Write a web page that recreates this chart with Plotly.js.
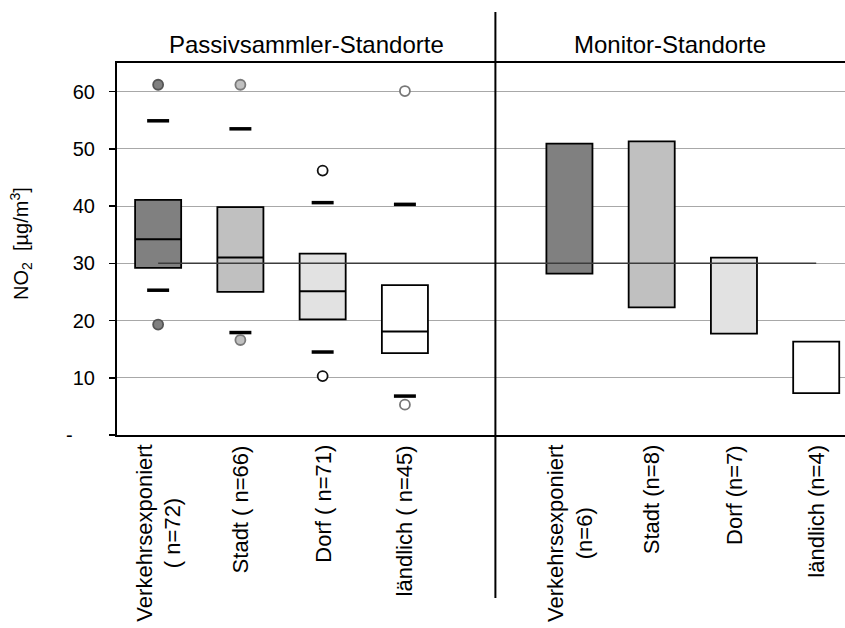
<!DOCTYPE html>
<html>
<head>
<meta charset="utf-8">
<script src="https://cdn.plot.ly/plotly-3.0.1.min.js"></script>
<style>html,body{margin:0;padding:0;background:#fff;}#chart{width:845px;height:628px;}</style>
</head>
<body>
<div id="chart"></div>
<script>
// ---- data ----
var groupTitles = ["Passivsammler-Standorte", "Monitor-Standorte"];
var passivLabels = ["Verkehrsexponiert<br>( n=72)", "Stadt ( n=66)", "Dorf ( n=71)", "ländlich ( n=45)"];
var monitorLabels = ["Verkehrsexponiert<br>(n=6)", "Stadt (n=8)", "Dorf (n=7)", "ländlich (n=4)"];

var passivMin    = [19.3, 16.6, 10.3, 5.3];
var passivP10    = [25.3, 17.9, 14.5, 6.8];
var passivQ1     = [29.2, 25.0, 20.2, 14.3];
var passivMedian = [34.2, 31.0, 25.1, 18.1];
var passivQ3     = [41.1, 39.8, 31.7, 26.2];
var passivP90    = [54.9, 53.5, 40.6, 40.3];
var passivMax    = [61.2, 61.2, 46.2, 60.1];

var monitorMin = [28.2, 22.3, 17.7, 7.3];
var monitorMax = [50.9, 51.3, 31.0, 16.3];

var grenzwert = 30;

var yTickVals = [0, 10, 20, 30, 40, 50, 60];
var yTickText = ["-\u00a0\u00a0\u00a0\u00a0", "10", "20", "30", "40", "50", "60"];

// ---- styles ----
var boxColors = ["#808080", "#c0c0c0", "#e2e2e2", "#ffffff"];
var dotFill = ["#808080", "#c0c0c0", "#ffffff", "#ffffff"];
var dotLine = ["#555555", "#7a7a7a", "#111111", "#777777"];
var font = "Liberation Sans, Arial, sans-serif";
var boxW = 0.56;

// ---- positions (category slots) ----
var px = passivLabels.map(function (_, i) { return i; });
var mx = monitorLabels.map(function (_, i) { return i + passivLabels.length + 1; });
var divider = passivLabels.length + 0.1;
var xMin = -0.5, xMax = 8.35;

var traces = [];
// boxes
traces.push({
  type: "bar",
  x: px.concat(mx),
  base: passivQ1.concat(monitorMin),
  y: passivQ3.map(function (v, i) { return v - passivQ1[i]; })
      .concat(monitorMax.map(function (v, i) { return v - monitorMin[i]; })),
  width: boxW,
  marker: { color: boxColors.concat(boxColors), line: { color: "#000", width: 1.8 } },
  hoverinfo: "none", showlegend: false
});
// threshold line
traces.push({
  type: "scatter", mode: "lines",
  x: [px[0], mx[mx.length - 1]], y: [grenzwert, grenzwert],
  line: { color: "#3c3c3c", width: 1.6 },
  hoverinfo: "none", showlegend: false
});
// medians
var medX = [], medY = [];
px.forEach(function (x, i) {
  medX.push(x - boxW / 2, x + boxW / 2, null);
  medY.push(passivMedian[i], passivMedian[i], null);
});
traces.push({
  type: "scatter", mode: "lines", x: medX, y: medY,
  line: { color: "#000", width: 2 }, hoverinfo: "none", showlegend: false
});
// percentile dashes
traces.push({
  type: "scatter", mode: "markers",
  x: px.concat(px), y: passivP10.concat(passivP90),
  marker: { symbol: "line-ew", size: 15.7, line: { color: "#000", width: 3.5 } },
  hoverinfo: "none", showlegend: false
});
// min/max dots
traces.push({
  type: "scatter", mode: "markers",
  x: px.concat(px), y: passivMin.concat(passivMax),
  marker: { symbol: "circle", size: 10, color: dotFill.concat(dotFill),
            line: { color: dotLine.concat(dotLine), width: 1.8 } },
  hoverinfo: "none", showlegend: false
});

var annotations = [];
passivLabels.concat(monitorLabels).forEach(function (t, i) {
  annotations.push({
    x: px.concat(mx)[i], xref: "x", y: 0, yref: "paper",
    xanchor: "center", yanchor: "top", yshift: -8,
    text: t, textangle: -90, align: "center", showarrow: false,
    font: { family: font, size: 22, color: "#000" }
  });
});
annotations.push({
  x: (xMin + divider) / 2, xref: "x", y: 1, yref: "paper", yanchor: "bottom", yshift: 3,
  text: groupTitles[0], showarrow: false, font: { family: font, size: 24, color: "#000" }
});
annotations.push({
  x: (divider + xMax) / 2, xref: "x", y: 1, yref: "paper", yanchor: "bottom", yshift: 3,
  text: groupTitles[1], showarrow: false, font: { family: font, size: 24, color: "#000" }
});
annotations.push({
  x: -0.132, xref: "paper", y: 0.516, yref: "paper", xanchor: "center", yanchor: "middle",
  text: "NO<sub>2</sub>\u00a0 [µg/m<sup>3</sup>]", textangle: -90, showarrow: false,
  font: { family: font, size: 20, color: "#000" }
});

var layout = {
  width: 845, height: 628,
  margin: { l: 117, r: 0, t: 63, b: 193 },
  paper_bgcolor: "#fff", plot_bgcolor: "#fff",
  showlegend: false,
  xaxis: {
    range: [xMin, xMax], showgrid: false, zeroline: false, showticklabels: false, ticks: "",
    showline: true, linecolor: "#000", linewidth: 2, mirror: true, fixedrange: true
  },
  yaxis: {
    range: [0, 65], tickvals: yTickVals, ticktext: yTickText,
    ticks: "outside", ticklen: 6, tickwidth: 1.5, tickcolor: "#000",
    ticklabelstandoff: 10,
    showline: true, linecolor: "#000", linewidth: 2,
    showgrid: true, gridcolor: "#a8a8a8", gridwidth: 1, zeroline: false,
    tickfont: { family: font, size: 20, color: "#000" }, fixedrange: true
  },
  shapes: [{
    type: "line", xref: "x", yref: "paper", x0: divider, x1: divider, y0: -0.438, y1: 1.137,
    line: { color: "#000", width: 2 }
  }],
  annotations: annotations,
  bargap: 0
};

Plotly.newPlot("chart", traces, layout, { displayModeBar: false, staticPlot: true });
</script>
</body>
</html>
